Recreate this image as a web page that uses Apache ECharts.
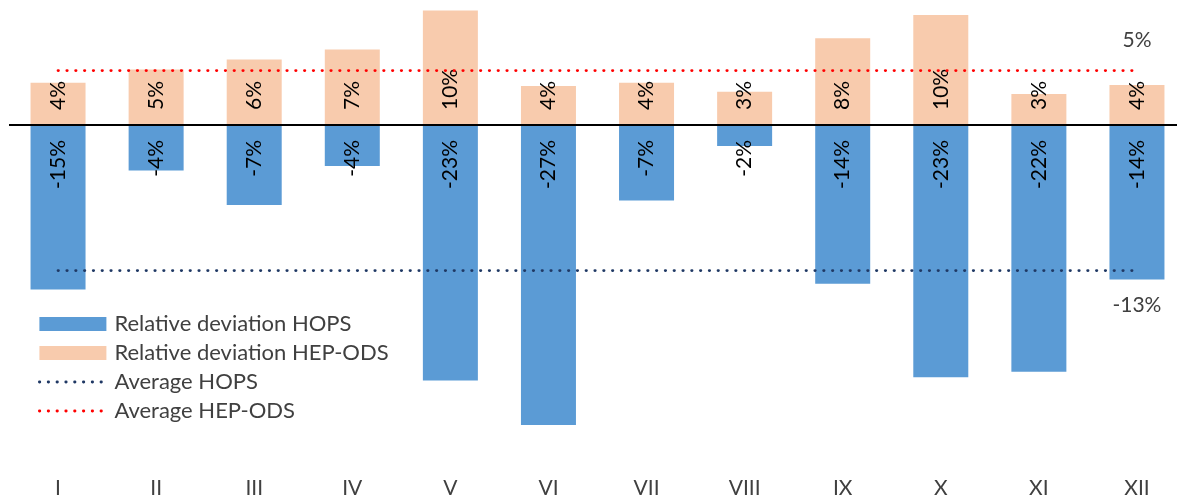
<!DOCTYPE html>
<html>
<head>
<meta charset="utf-8">
<script src="https://cdn.jsdelivr.net/npm/echarts@6/dist/echarts.min.js"></script>
<style>
  html, body { margin: 0; padding: 0; background: #fff; }
  #chart { width: 1177px; height: 500px; }
</style>
</head>
<body>
<div id="chart"></div>
<script>
// Months of the year
const months = ['I', 'II', 'III', 'IV', 'V', 'VI', 'VII', 'VIII', 'IX', 'X', 'XI', 'XII'];
// Monthly relative deviation, %
const hopsDeviation = [-14.8, -4.1, -7.2, -3.7, -23.0, -27.0, -6.8, -1.9, -14.3, -22.7, -22.2, -13.9];
const hepOdsDeviation = [3.8, 5.0, 5.9, 6.8, 10.3, 3.5, 3.8, 3.0, 7.8, 9.9, 2.8, 3.6];
// Yearly averages, %
const avgHops = -13.1;
const avgHepOds = 4.9;

const FONT = 'Lato, "Liberation Sans", sans-serif';
const pct = v => Math.round(v) + '%';
const DOTS = [0.4, 8.4];

const chart = echarts.init(document.getElementById('chart'));

// Dotted horizontal average line from the first to the last month,
// with its value written next to the last month
function avgLine(name, value, color, position, distance) {
  return {
    name: name,
    type: 'line',
    symbol: 'circle',
    symbolSize: 0,
    showSymbol: true,
    silent: true,
    z: 5,
    lineStyle: { color: color, width: 2.8, type: DOTS, cap: 'round' },
    itemStyle: { color: color },
    data: [
      [months[0], value],
      {
        value: [months[months.length - 1], value],
        label: {
          show: true,
          position: position,
          distance: distance,
          formatter: p => pct(p.value[1]),
          color: '#404040',
          fontFamily: FONT,
          fontSize: 21
        }
      }
    ]
  };
}

const hiddenMarker = { color: 'rgba(0,0,0,0)', borderWidth: 0 };
const legendDots = { width: 2.8, type: DOTS, cap: 'round' };

chart.setOption({
  animation: false,
  backgroundColor: '#ffffff',
  textStyle: { fontFamily: FONT },
  grid: {
    left: 9, width: 1177, top: 2.78, bottom: 41.7,
    containLabel: false, outerBoundsMode: 'none'
  },
  legend: {
    orient: 'vertical',
    left: 33,
    top: 308,
    itemWidth: 67,
    itemHeight: 14,
    itemGap: 7,
    textStyle: { color: '#404040', fontSize: 22, fontFamily: FONT, padding: [0, 0, 0, 3] },
    data: [
      { name: 'Relative deviation HOPS', icon: 'rect' },
      { name: 'Relative deviation HEP-ODS', icon: 'rect' },
      { name: 'Average HOPS', itemStyle: hiddenMarker, lineStyle: legendDots },
      { name: 'Average HEP-ODS', itemStyle: hiddenMarker, lineStyle: legendDots }
    ]
  },
  xAxis: {
    type: 'category',
    data: months,
    position: 'bottom',
    axisLine: { show: false, onZero: false },
    axisTick: { show: false },
    axisLabel: { color: '#404040', fontSize: 21, fontFamily: FONT, margin: 19 },
    splitLine: { show: false }
  },
  yAxis: {
    type: 'value',
    min: -30,
    max: 11,
    show: false,
    splitLine: { show: false }
  },
  series: [
    {
      name: 'Relative deviation HOPS',
      type: 'bar',
      barWidth: 55,
      barGap: '-100%',
      itemStyle: { color: '#5B9BD5' },
      data: hopsDeviation,
      label: {
        show: true,
        position: 'insideTop',
        distance: 15,
        rotate: 90,
        align: 'right',
        verticalAlign: 'middle',
        formatter: p => pct(p.value),
        color: '#000',
        fontSize: 21,
        fontFamily: FONT
      },
      markLine: {
        silent: true,
        symbol: 'none',
        label: { show: false },
        lineStyle: { color: '#000', width: 2, type: 'solid' },
        data: [{ yAxis: 0 }]
      }
    },
    {
      name: 'Relative deviation HEP-ODS',
      type: 'bar',
      barWidth: 55,
      barGap: '-100%',
      itemStyle: { color: '#F8CBAD' },
      data: hepOdsDeviation,
      label: {
        show: true,
        position: 'insideBottom',
        distance: 15,
        rotate: 90,
        align: 'left',
        verticalAlign: 'middle',
        formatter: p => pct(p.value),
        color: '#000',
        fontSize: 21,
        fontFamily: FONT
      }
    },
    avgLine('Average HOPS', avgHops, '#1F3864', 'bottom', 24),
    avgLine('Average HEP-ODS', avgHepOds, '#FF0000', 'top', 20)
  ]
});
</script>
</body>
</html>
